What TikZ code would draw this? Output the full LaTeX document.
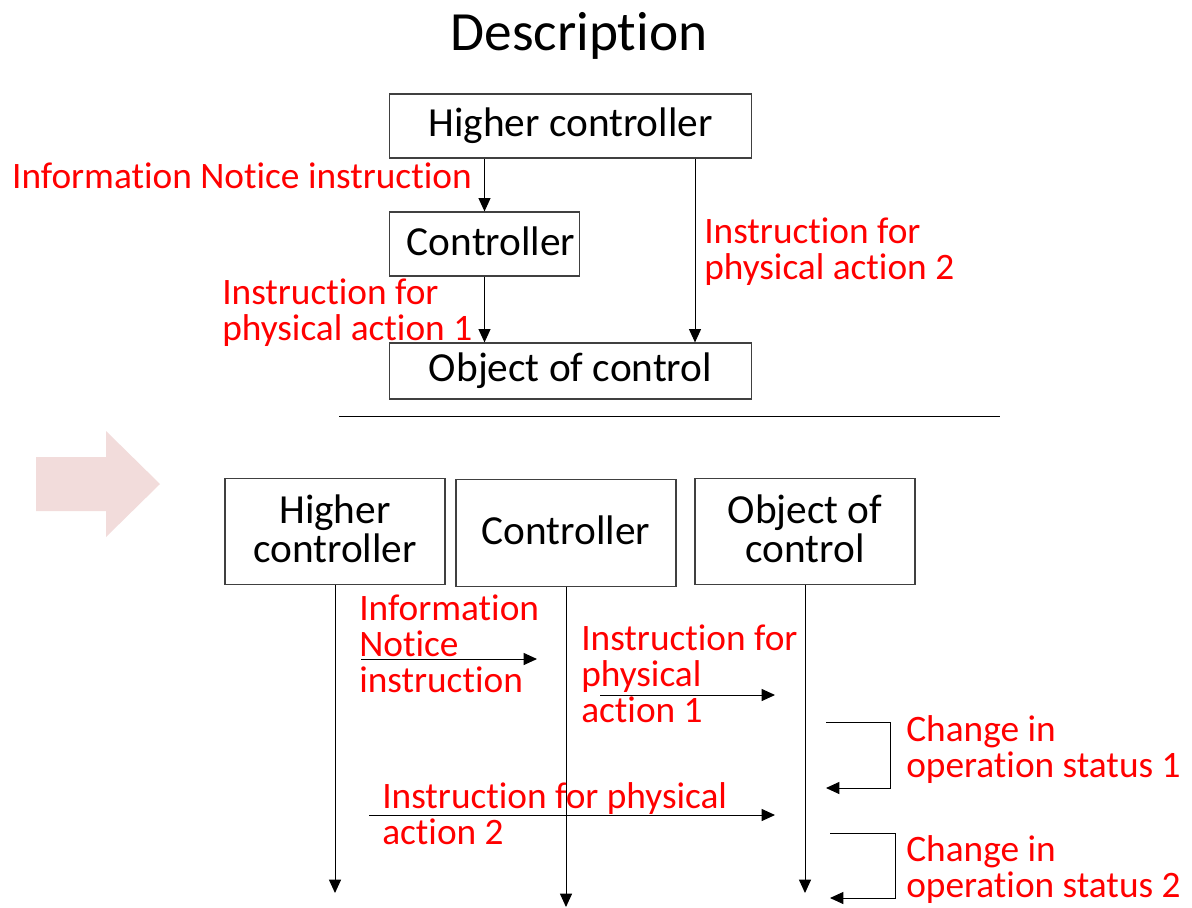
\documentclass[tikz,border=0pt]{standalone}
\usepackage{fontspec}
\setmainfont{Carlito}[Ligatures={NoCommon},RawFeature={-liga;-clig;-calt;-dlig}]
\usetikzlibrary{arrows.meta}
\definecolor{redtxt}{RGB}{255,0,0}
\definecolor{pinkarrow}{RGB}{242,220,219}
\definecolor{boxline}{RGB}{64,64,64}
\newcommand{\lowpad}{\rule[-5pt]{0pt}{0pt}}
\begin{document}
\begin{tikzpicture}[x=0.75pt,y=-0.75pt,
  box/.style={draw=boxline,line width=0.9pt,inner sep=0pt,font=\fontsize{31}{29.25}\selectfont,align=center},
  lbl/.style={text=redtxt,inner sep=0pt,font=\fontsize{28}{27}\selectfont,align=left},
  conn/.style={draw=black,line width=0.75pt,-{Triangle[length=10pt,width=9pt]}},
  plainline/.style={draw=black,line width=0.75pt}]
\useasboundingbox (0,0) rectangle (1192,907);

% title
\node[font=\fontsize{41.5}{48}\selectfont,inner sep=0pt] (title) at (579,36) {Description};

% ---- top diagram ----
\node[box,minimum width=272pt,minimum height=48pt] (hc1) at (570.5,126) {Higher controller};
\node[box,minimum width=143pt,minimum height=48pt] (c1) at (484.5,244) {\hspace*{10pt}Controller\lowpad};
\node[box,minimum width=272pt,minimum height=42pt] (oc1) at (570.5,371) {Object of control};

\draw[conn] (hc1.south -| c1.south) -- (c1.south |- c1.north);
\draw[conn] (c1.south) -- (c1.south |- oc1.north);
\coordinate (r1) at (695,0);
\draw[conn] (r1 |- hc1.south) -- (r1 |- oc1.north);

\node[lbl,anchor=east] (l1) at (472,176) {Information Notice instruction};
\node[lbl,anchor=west] (l2) at (222,313) {Instruction for\\physical action 1};
\node[lbl,anchor=west] (l3) at (704,252) {Instruction for\\physical action 2};

% separator
\coordinate (sepA) at (339,416);
\coordinate (sepB) at (1000,416);
\draw[plainline] (sepA) -- (sepB);

% pink arrow
\fill[pinkarrow] (36,457) -- (106,457) -- (106,431) -- (160,484) -- (106,537) -- (106,511) -- (36,511) -- cycle;

% ---- bottom diagram ----
\node[box,minimum width=165pt,minimum height=80pt] (hc2) at (335,531.5) {Higher\\controller\lowpad};
\node[box,minimum width=165pt,minimum height=80pt] (c2) at (566,533) {Controller\lowpad};
\node[box,minimum width=165pt,minimum height=80pt] (oc2) at (805,531.5) {Object of\\control\lowpad};

\coordinate (endA) at (335,893);
\coordinate (endB) at (566,907);
\coordinate (endC) at (805,893);
\draw[conn] (hc2.south) -- (endA);
\draw[conn] (c2.south) -- (endB);
\draw[conn] (oc2.south) -- (endC);

% messages
\coordinate (m1s) at (361,659);
\coordinate (m1e) at (537,659);
\draw[conn] (m1s) -- (m1e);
\coordinate (m2s) at (600,695);
\coordinate (m2e) at (775,695);
\draw[conn] (m2s) -- (m2e);
\coordinate (m3s) at (369,815);
\coordinate (m3e) at (775,815);
\draw[conn] (m3s) -- (m3e);

\coordinate (s1a) at (826,722);
\coordinate (s1b) at (890,722);
\coordinate (s1c) at (890,788);
\coordinate (s1d) at (826,788);
\draw[conn] (s1a) -- (s1b) -- (s1c) -- (s1d);
\coordinate (s2a) at (830,833);
\coordinate (s2b) at (895,833);
\coordinate (s2c) at (895,898);
\coordinate (s2d) at (830,898);
\draw[conn] (s2a) -- (s2b) -- (s2c) -- (s2d);

\node[lbl,anchor=west] (b1) at (359,644) {Information\\Notice\\instruction};
\node[lbl,anchor=west] (b2) at (581,674) {Instruction for\\physical\\action 1};
\node[lbl,anchor=west] (b3) at (906,750) {Change in\\operation status 1};
\node[lbl,anchor=west] (b4) at (382,814) {Instruction for physical\\action 2};
\node[lbl,anchor=west] (b5) at (906,870) {Change in\\operation status 2};
\end{tikzpicture}
\end{document}
